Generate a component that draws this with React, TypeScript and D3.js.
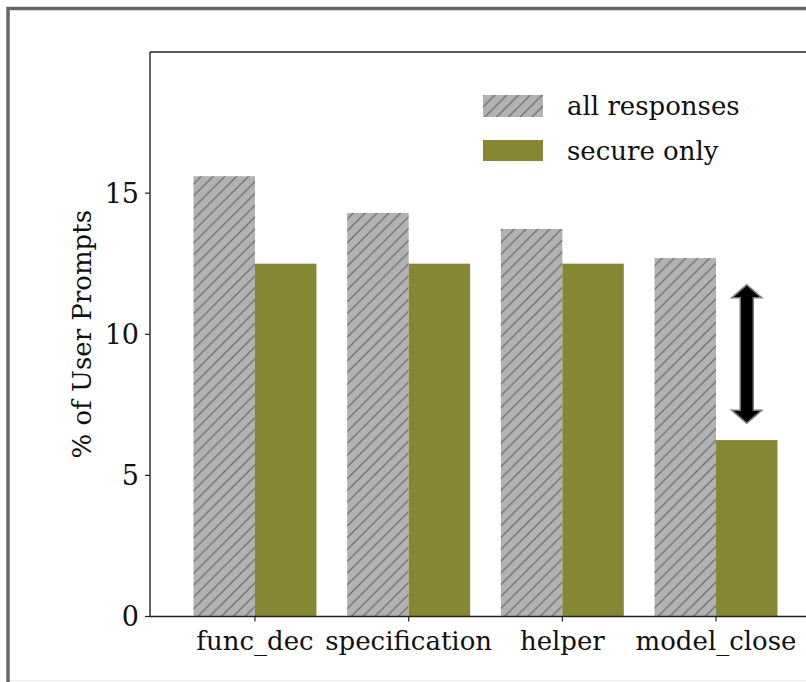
import React from "react";
import * as d3 from "d3";

const categories = ["func_dec", "specification", "helper", "model_close"];
const allResponses = [15.6, 14.3, 13.73, 12.7];
const secureOnly = [12.5, 12.5, 12.5, 6.25];
const yTicks = [0, 5, 10, 15];
const legendLabels = ["all responses", "secure only"];
// double arrow: [x position (category units), y start, y end]
const arrowSpec = [3.2, 6.85, 11.75];

const W = 806;
const H = 682;
const FONT = "'DejaVu Serif', serif";
const GRAY = "#b2b2b2";
const OLIVE = "#878733";

export default function App() {
  const left = 150, top = 52, bottom = 616.5, right = 821;
  const x = d3.scaleLinear().domain([-0.683, 3.683]).range([left, right]);
  const y = d3.scaleLinear().domain([0, 20]).range([bottom, top]);
  const bw = 0.4;
  const bwPx = x(bw) - x(0);

  const ax = x(arrowSpec[0]);
  const ay1 = y(arrowSpec[2]);
  const ay2 = y(arrowSpec[1]);
  const headW = 15, headL = 13, shaftW = 6.5;
  const arrowPath = [
    [ax, ay1],
    [ax + headW, ay1 + headL],
    [ax + shaftW, ay1 + headL],
    [ax + shaftW, ay2 - headL],
    [ax + headW, ay2 - headL],
    [ax, ay2],
    [ax - headW, ay2 - headL],
    [ax - shaftW, ay2 - headL],
    [ax - shaftW, ay1 + headL],
    [ax - headW, ay1 + headL],
  ];
  const arrowD = d3.line()(arrowPath as [number, number][]) + "Z";

  const hs = 11.8;

  return (
    <svg width={W} height={H} style={{ position: "absolute", left: 0, top: 0, background: "#fff" }} fontFamily={FONT}>
      <defs>
        <pattern id="hatch" patternUnits="userSpaceOnUse" width={hs} height={hs}>
          <rect width={hs} height={hs} fill={GRAY} />
          <path
            d={`M0,${hs} L${hs},0 M${-hs / 2},${hs / 2} L${hs / 2},${-hs / 2} M${hs / 2},${hs * 1.5} L${hs * 1.5},${hs / 2}`}
            stroke="#606060"
            strokeWidth={1.1}
          />
        </pattern>
      </defs>
      <rect x={0} y={0} width={W} height={H} fill="#fff" />
      {/* outer frame */}
      <rect x={8} y={8.5} width={W} height={H + 10} fill="none" stroke="#666" strokeWidth={3.5} />
      <line x1={10} x2={W} y1={680.5} y2={680.5} stroke="#eee" strokeWidth={1} />

      {/* bars */}
      <g>
        {categories.map((c, i) => (
          <g key={c}>
            <rect x={x(i - bw)} y={y(allResponses[i])} width={bwPx} height={y(0) - y(allResponses[i])} fill="url(#hatch)" />
            <rect x={x(i)} y={y(secureOnly[i])} width={bwPx} height={y(0) - y(secureOnly[i])} fill={OLIVE} />
          </g>
        ))}
      </g>

      {/* arrow */}
      <path d={arrowD} fill="#000" stroke="#777" strokeWidth={1.5} strokeLinejoin="miter" />

      {/* spines */}
      <line x1={left} x2={left} y1={top} y2={bottom} stroke="#222" strokeWidth={1.4} />
      <line x1={left} x2={right} y1={top} y2={top} stroke="#222" strokeWidth={1.4} />
      <line x1={left} x2={right} y1={bottom} y2={bottom} stroke="#222" strokeWidth={1.4} />

      {/* y ticks */}
      {yTicks.map((t) => (
        <g key={t}>
          <line x1={left - 5} x2={left} y1={y(t)} y2={y(t)} stroke="#222" strokeWidth={1.2} />
          <text x={left - 11} y={y(t)} textAnchor="end" dominantBaseline="central" fontSize={27} fill="#111">
            {t}
          </text>
        </g>
      ))}

      {/* x ticks */}
      {categories.map((c, i) => (
        <g key={c}>
          <line x1={x(i)} x2={x(i)} y1={bottom} y2={bottom + 5} stroke="#222" strokeWidth={1.2} />
          <text x={x(i)} y={650} textAnchor="middle" fontSize={26} fill="#111">
            {c}
          </text>
        </g>
      ))}

      {/* y label */}
      <text
        transform={`translate(82,${(top + bottom) / 2}) rotate(-90)`}
        textAnchor="middle"
        dominantBaseline="central"
        fontSize={26}
        fill="#111"
      >
        % of User Prompts
      </text>

      {/* legend */}
      <rect x={483} y={95} width={60} height={22} fill="url(#hatch)" />
      <rect x={483} y={140} width={60} height={21} fill={OLIVE} />
      <text x={567} y={106} dominantBaseline="central" fontSize={26} fill="#111">
        {legendLabels[0]}
      </text>
      <text x={567} y={151} dominantBaseline="central" fontSize={26} fill="#111">
        {legendLabels[1]}
      </text>
    </svg>
  );
}
